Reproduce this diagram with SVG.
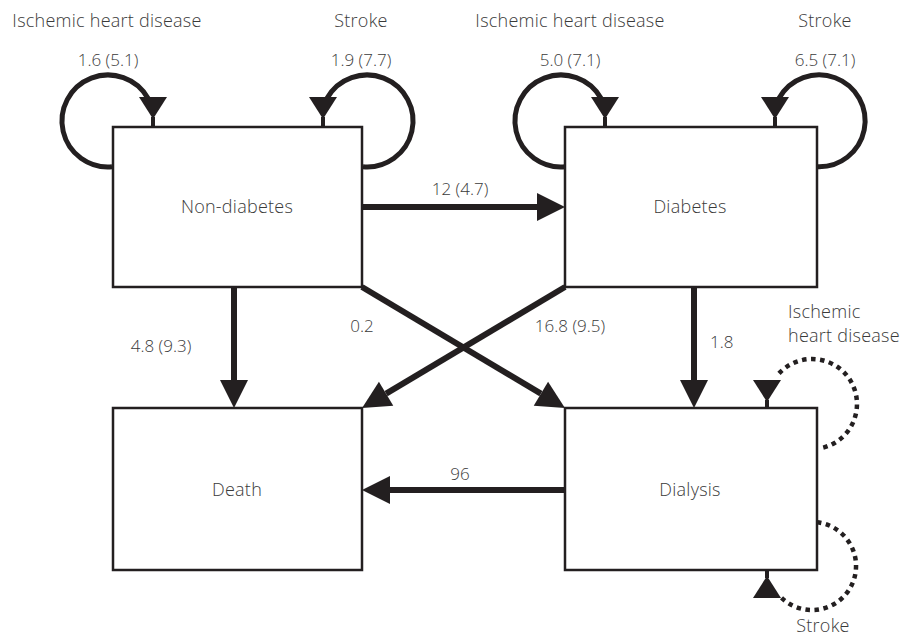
<svg xmlns="http://www.w3.org/2000/svg" width="900" height="637" viewBox="0 0 900 637">
<defs>
<style>
text{font-family:"Open Sans","Liberation Sans",sans-serif;font-weight:300;font-size:17px;fill:#3a3a3a}
.w{font-size:18px;letter-spacing:0.25px}
.m{text-anchor:middle}
.box{fill:#fff;stroke:#231f20;stroke-width:2.5}
.arr{fill:none;stroke:#231f20;stroke-width:6}
.loop{fill:none;stroke:#231f20;stroke-width:5}
.dot{fill:none;stroke:#231f20;stroke-width:4.5;stroke-dasharray:4.5 4.5}
</style>
<marker id="ah" markerUnits="userSpaceOnUse" markerWidth="28" markerHeight="28" refX="0" refY="14" orient="auto" overflow="visible">
<path d="M0,0 L28,14 L0,28 z" fill="#231f20"/>
</marker>
<g id="ld"><path d="M-14,0 L14,0 L0,22 z" fill="#231f20"/><rect x="-2" y="20" width="4" height="10" fill="#231f20"/></g>
</defs>
<rect width="900" height="637" fill="#fff"/>

<g id="connectors">
<line class="arr" x1="362" y1="207" x2="537" y2="207" marker-end="url(#ah)"/>
<line class="arr" x1="234" y1="287" x2="234" y2="380" marker-end="url(#ah)"/>
<line class="arr" x1="694" y1="287" x2="694" y2="380" marker-end="url(#ah)"/>
<line class="arr" x1="362" y1="287" x2="540.9" y2="393.7" marker-end="url(#ah)"/>
<line class="arr" x1="565" y1="287" x2="386.1" y2="393.7" marker-end="url(#ah)"/>
<line class="arr" x1="565" y1="490" x2="390" y2="490" marker-end="url(#ah)"/>
<path class="loop" d="M112,166.8 A46,46 0 1 1 148,98.3"/>
<use href="#ld" x="153" y="97"/>
<path class="loop" d="M363,166.8 A46,46 0 1 0 327,98.3"/>
<use href="#ld" x="323" y="97"/>
<path class="loop" d="M565,166.8 A46,46 0 1 1 601,98.3"/>
<use href="#ld" x="605" y="97"/>
<path class="loop" d="M817,166.8 A46,46 0 1 0 779,98.3"/>
<use href="#ld" x="775" y="97"/>
<path class="dot" d="M779,373.4 A45,45 0 1 1 820,448.3"/>
<use href="#ld" x="767" y="380"/>
<path class="dot" d="M817,522.3 A44,44 0 1 1 781,597.2"/>
<use href="#ld" transform="translate(767,598) scale(1,-1)"/>
</g>

<g id="non-diabetes"><rect class="box" x="113" y="127" width="249" height="160"/><text class="m w" x="237" y="213">Non-diabetes</text></g>
<g id="diabetes"><rect class="box" x="565" y="127" width="252" height="160"/><text class="m w" x="690" y="213">Diabetes</text></g>
<g id="death"><rect class="box" x="113" y="408" width="249" height="162"/><text class="m w" x="237" y="496">Death</text></g>
<g id="dialysis"><rect class="box" x="565" y="408" width="252" height="162"/><text class="m w" x="690" y="496">Dialysis</text></g>

<g id="labels">
<text class="m w" x="107" y="27">Ischemic heart disease</text>
<text class="m w" x="361" y="27">Stroke</text>
<text class="m" x="108" y="66">1.6 (5.1)</text>
<text class="m" x="361" y="66">1.9 (7.7)</text>
<text class="m w" x="570" y="27">Ischemic heart disease</text>
<text class="m w" x="825" y="27">Stroke</text>
<text class="m" x="570" y="66">5.0 (7.1)</text>
<text class="m" x="825" y="66">6.5 (7.1)</text>
<text class="m" x="460" y="195">12 (4.7)</text>
<text class="m" x="161" y="352">4.8 (9.3)</text>
<text class="m" x="362" y="332">0.2</text>
<text class="m" x="570" y="332">16.8 (9.5)</text>
<text x="710" y="348">1.8</text>
<text class="w" x="788" y="318">Ischemic</text>
<text class="w" x="788" y="342">heart disease</text>
<text class="m" x="460" y="480">96</text>
<text class="m w" x="823" y="632">Stroke</text>
</g>
</svg>
